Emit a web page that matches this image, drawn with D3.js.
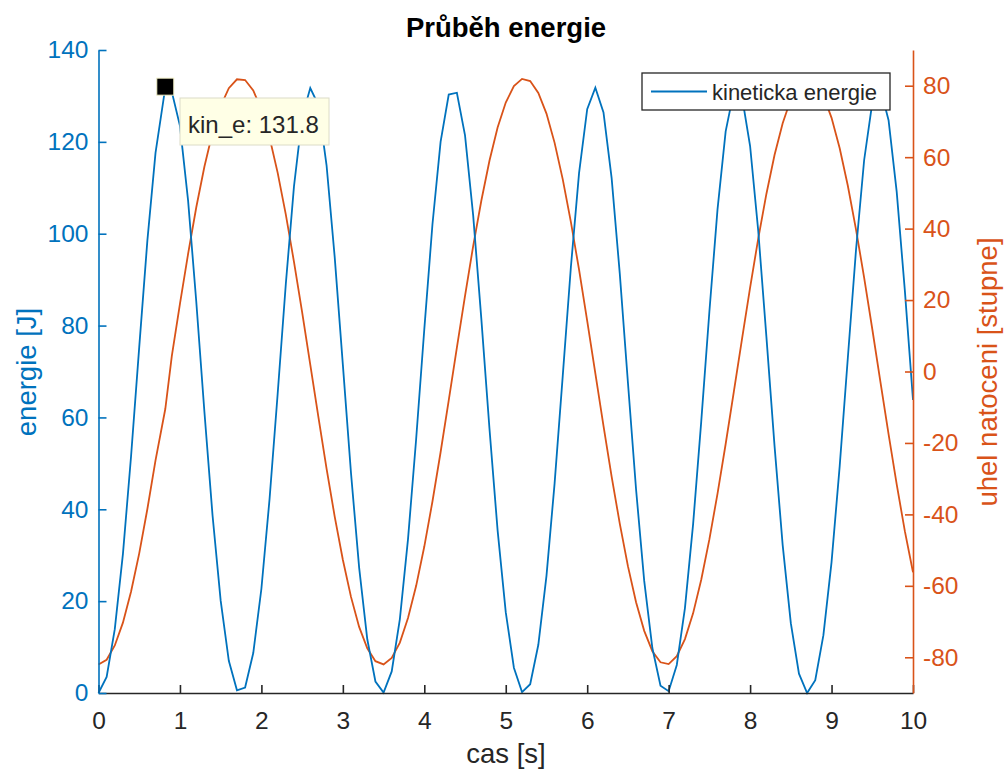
<!DOCTYPE html>
<html>
<head>
<meta charset="utf-8">
<script src="https://cdnjs.cloudflare.com/ajax/libs/d3/7.8.5/d3.min.js"></script>
<style>
  body { margin: 0; background: #fff; }
  svg text { font-family: "Liberation Sans", Arial, Helvetica, sans-serif; }
</style>
</head>
<body>
<div id="chart"></div>
<script>
// cas [s]
const time = [0, 0.1, 0.2, 0.3, 0.4, 0.5, 0.6, 0.7, 0.82, 0.9,
  1, 1.1, 1.2, 1.3, 1.4, 1.5, 1.6, 1.7, 1.8, 1.9,
  2, 2.1, 2.2, 2.3, 2.4, 2.5, 2.6, 2.7, 2.8, 2.9,
  3, 3.1, 3.2, 3.3, 3.4, 3.5, 3.6, 3.7, 3.8, 3.9,
  4, 4.1, 4.2, 4.3, 4.4, 4.5, 4.6, 4.7, 4.8, 4.9,
  5, 5.1, 5.2, 5.3, 5.4, 5.5, 5.6, 5.7, 5.8, 5.9,
  6, 6.1, 6.2, 6.3, 6.4, 6.5, 6.6, 6.7, 6.8, 6.9,
  7, 7.1, 7.2, 7.3, 7.4, 7.5, 7.6, 7.7, 7.8, 7.9,
  8, 8.1, 8.2, 8.3, 8.4, 8.5, 8.6, 8.7, 8.8, 8.9,
  9, 9.1, 9.2, 9.3, 9.4, 9.5, 9.6, 9.7, 9.8, 9.9, 10];

// kineticka energie [J]
const kinE = [0.0, 3.5, 13.9, 30.3, 51.6, 75.3, 98.5, 117.6, 131.8, 130.9,
  123.5, 107.2, 85.3, 61.3, 38.7, 20.1, 7.0, 0.6, 1.2, 8.7,
  22.7, 42.2, 65.2, 89.1, 110.3, 125.4, 131.7, 128.0, 114.9, 94.9,
  71.5, 47.9, 27.3, 11.7, 2.5, 0.1, 4.7, 16.1, 33.5, 55.3,
  79.2, 102.0, 120.0, 130.3, 130.7, 121.4, 104.0, 81.5, 57.6, 35.4,
  17.6, 5.5, 0.2, 1.9, 10.5, 25.5, 45.7, 69.1, 92.8, 113.2,
  127.1, 131.8, 126.4, 112.1, 91.3, 67.6, 44.3, 24.4, 9.8, 1.6,
  0.4, 6.1, 18.5, 36.7, 59.1, 83.0, 105.3, 122.3, 131.0, 129.9,
  119.1, 100.6, 77.6, 53.8, 32.2, 15.2, 4.2, 0.0, 2.8, 12.6,
  28.5, 49.4, 73.0, 96.4, 116.0, 128.5, 131.6, 124.7, 109.1, 87.6, 63.8];

// uhel natoceni [stupne]
const angle = [-82.0, -80.7, -76.7, -70.3, -61.6, -50.9, -38.5, -24.9, -10.5, 4.3,
  18.9, 32.9, 45.9, 57.3, 66.9, 74.3, 79.3, 81.8, 81.6, 78.7,
  73.3, 65.5, 55.6, 43.9, 30.7, 16.6, 1.9, -12.8, -27.2, -40.6,
  -52.7, -63.1, -71.5, -77.5, -81.1, -82.0, -80.2, -75.9, -69.0, -60.0,
  -49.0, -36.4, -22.6, -8.1, 6.7, 21.2, 35.1, 47.8, 59.0, 68.3,
  75.3, 79.9, 81.9, 81.3, 78.0, 72.2, 64.0, 53.8, 41.8, 28.5,
  14.2, -0.5, -15.2, -29.4, -42.6, -54.5, -64.6, -72.6, -78.3, -81.4,
  -81.9, -79.7, -74.9, -67.7, -58.3, -47.0, -34.2, -20.3, -5.7, 9.0,
  23.5, 37.2, 49.7, 60.6, 69.5, 76.2, 80.4, 82.0, 80.9, 77.2,
  71.0, 62.5, 52.0, 39.8, 26.3, 11.9, -2.9, -17.5, -31.6, -44.7, -56.2];

const xTicks = [0, 1, 2, 3, 4, 5, 6, 7, 8, 9, 10];
const leftTicks = [0, 20, 40, 60, 80, 100, 120, 140];
const rightTicks = [-80, -60, -40, -20, 0, 20, 40, 60, 80];

const tipIndex = 8; // datatip on kin_e

const width = 1007;
const height = 776;
const blue = "#0072BD";
const orange = "#D95319";
const dark = "#262626";

const svg = d3.select("#chart").append("svg")
  .attr("width", width)
  .attr("height", height);

// SCALES
const x = d3.scaleLinear().domain([0, 10]).range([98.5, 913]);
const yL = d3.scaleLinear().domain([0, 140]).range([693, 50]);
const yR = d3.scaleLinear().domain([-90, 90]).range([693, 50]);

// LINES
const angleLine = d3.line().x((d, i) => x(time[i])).y(d => yR(d));
const energyLine = d3.line().x((d, i) => x(time[i])).y(d => yL(d));

svg.append("path")
  .datum(angle)
  .attr("d", angleLine)
  .attr("fill", "none")
  .attr("stroke", orange)
  .attr("stroke-width", 1.8);

svg.append("path")
  .datum(kinE)
  .attr("d", energyLine)
  .attr("fill", "none")
  .attr("stroke", blue)
  .attr("stroke-width", 1.8);

// AXES
// plain hyphen for negatives, like the original
const plain = d => String(d);

function styleAxis(g, color, size) {
  g.attr("font-size", size)
   .attr("font-family", null);
  g.selectAll("path, line").attr("stroke", color).attr("stroke-width", 1.6);
  g.selectAll("text").attr("fill", color);
}

svg.append("g")
  .attr("transform", "translate(0,693)")
  .call(d3.axisBottom(x).tickValues(xTicks).tickFormat(plain).tickSize(-8).tickSizeOuter(0).tickPadding(19))
  .call(g => styleAxis(g, dark, 24.5));

svg.append("g")
  .attr("transform", "translate(98.5,0)")
  .call(d3.axisLeft(yL).tickValues(leftTicks).tickFormat(plain).tickSize(-8).tickSizeOuter(0).tickPadding(10))
  .call(g => styleAxis(g, blue, 24.5));

svg.append("g")
  .attr("transform", "translate(913,0)")
  .call(d3.axisRight(yR).tickValues(rightTicks).tickFormat(plain).tickSize(-8).tickSizeOuter(0).tickPadding(10))
  .call(g => styleAxis(g, orange, 24.5));

// LABELS
svg.append("text")
  .attr("x", 506).attr("y", 37)
  .attr("text-anchor", "middle")
  .attr("font-size", 27.5)
  .attr("font-weight", "bold")
  .attr("fill", "#000")
  .text("Průběh energie");

svg.append("text")
  .attr("x", 506).attr("y", 763)
  .attr("text-anchor", "middle")
  .attr("font-size", 27.5)
  .attr("fill", dark)
  .text("cas [s]");

svg.append("text")
  .attr("transform", "translate(36,372) rotate(-90)")
  .attr("text-anchor", "middle")
  .attr("font-size", 27.5)
  .attr("fill", blue)
  .text("energie [J]");

svg.append("text")
  .attr("transform", "translate(997,372) rotate(-90)")
  .attr("text-anchor", "middle")
  .attr("font-size", 27.5)
  .attr("fill", orange)
  .text("uhel natoceni [stupne]");

// LEGEND
const legend = svg.append("g").attr("transform", "translate(642,73)");
legend.append("rect")
  .attr("width", 248).attr("height", 37)
  .attr("fill", "#fff")
  .attr("stroke", dark)
  .attr("stroke-width", 1.3);
legend.append("line")
  .attr("x1", 9).attr("x2", 65)
  .attr("y1", 18.5).attr("y2", 18.5)
  .attr("stroke", blue).attr("stroke-width", 1.8);
legend.append("text")
  .attr("x", 70).attr("y", 26.5)
  .attr("font-size", 22)
  .attr("fill", dark)
  .text("kineticka energie");

// DATATIP
const tx = x(time[tipIndex]);
const ty = yL(kinE[tipIndex]);
svg.append("rect")
  .attr("x", tx - 8.5).attr("y", ty - 9.5)
  .attr("width", 17).attr("height", 17)
  .attr("fill", "#000")
  .attr("stroke", "#f2f0c8")
  .attr("stroke-width", 1);

const tip = svg.append("g").attr("transform", "translate(180,98)");
tip.append("rect")
  .attr("width", 149).attr("height", 47)
  .attr("fill", "#ffffe6")
  .attr("stroke", "#dcdcc8")
  .attr("stroke-width", 1);
tip.append("text")
  .attr("x", 8).attr("y", 35)
  .attr("font-size", 24)
  .attr("fill", dark)
  .text("kin_e: " + kinE[tipIndex].toFixed(1));
</script>
</body>
</html>
